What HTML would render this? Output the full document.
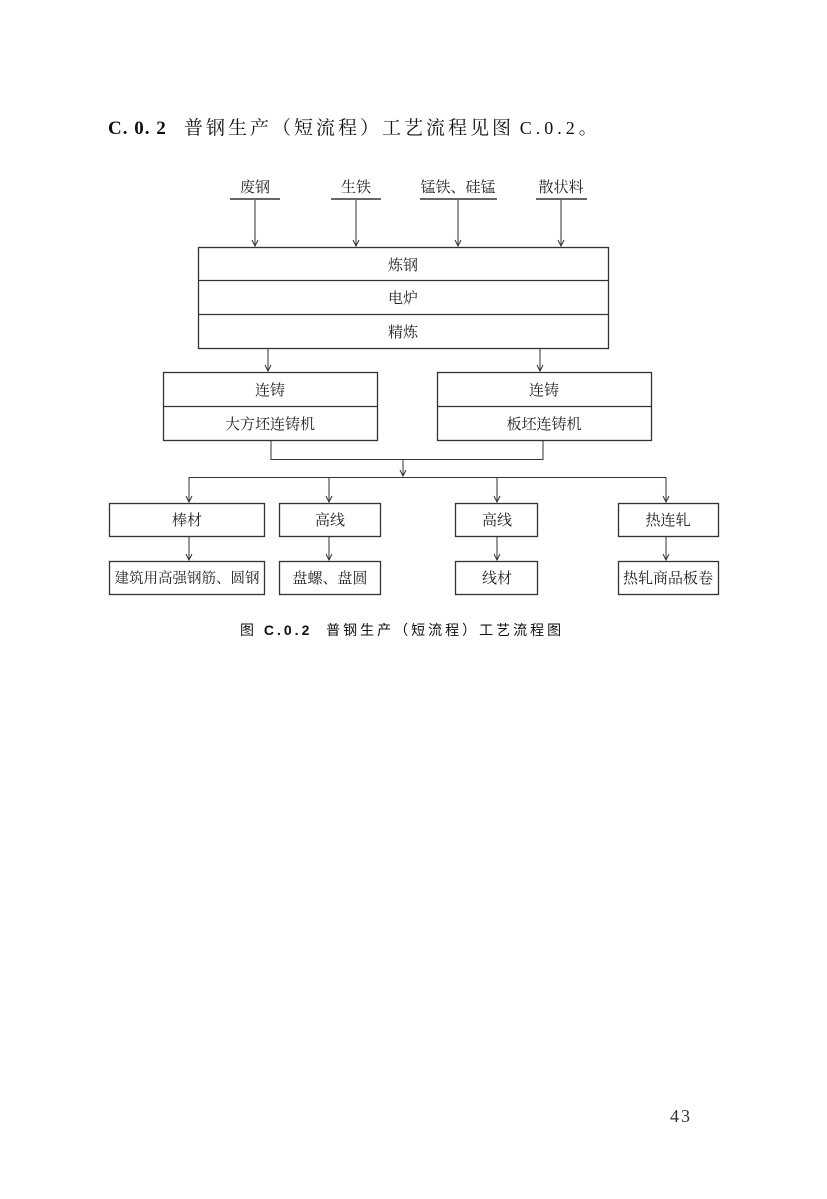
<!DOCTYPE html>
<html><head><meta charset="utf-8"><style>
html,body{margin:0;padding:0;background:#fff;}
body{width:827px;height:1199px;position:relative;overflow:hidden;font-family:"Liberation Serif","Noto Serif CJK SC","Noto Sans CJK SC",serif;color:#111;}
.t{position:absolute;white-space:nowrap;}
svg text{font-family:"Liberation Serif","Noto Serif CJK SC","Noto Sans CJK SC",serif;font-size:15px;fill:#222;text-anchor:middle;}
</style></head><body>
<div class="t" style="left:108px;top:113px;font-size:19px;letter-spacing:1px;"><b>C. 0. 2</b>&nbsp;&nbsp;&nbsp;<span style="letter-spacing:3px">普钢生产（短流程）工艺流程见图</span> <span style="font-size:18px;letter-spacing:4px">C.0.2。</span></div>
<svg width="827" height="1199" style="position:absolute;left:0;top:0" xmlns="http://www.w3.org/2000/svg">
<defs><marker id="a" markerWidth="8" markerHeight="8" refX="7" refY="4" orient="auto" markerUnits="userSpaceOnUse"><path d="M1,1 L7,4 L1,7" fill="none" stroke="#333" stroke-width="1"/></marker></defs>
<g stroke="#666" stroke-width="2" fill="none">
<line x1="230" y1="199" x2="280" y2="199"/>
<line x1="331" y1="199" x2="381" y2="199"/>
<line x1="420" y1="199" x2="497" y2="199"/>
<line x1="536" y1="199" x2="587" y2="199"/>
</g>
<g stroke="#333" stroke-width="1" fill="none" marker-end="url(#a)">
<line x1="255" y1="200" x2="255" y2="246"/><line x1="356" y1="200" x2="356" y2="246"/>
<line x1="458" y1="200" x2="458" y2="246"/><line x1="561" y1="200" x2="561" y2="246"/>
<line x1="268" y1="349" x2="268" y2="371"/><line x1="540" y1="349" x2="540" y2="371"/>
<line x1="403" y1="459" x2="403" y2="476"/>
<line x1="189" y1="477" x2="189" y2="502"/><line x1="329" y1="477" x2="329" y2="502"/>
<line x1="497" y1="477" x2="497" y2="502"/><line x1="666" y1="477" x2="666" y2="502"/>
<line x1="189" y1="536" x2="189" y2="560"/><line x1="329" y1="536" x2="329" y2="560"/>
<line x1="497" y1="536" x2="497" y2="560"/><line x1="666" y1="536" x2="666" y2="560"/>
</g>
<g stroke="#333" stroke-width="1.3" fill="none">
<rect x="198.5" y="247.5" width="410" height="101"/>
<line x1="198" y1="280.5" x2="609" y2="280.5"/><line x1="198" y1="314.5" x2="609" y2="314.5"/>
<rect x="163.5" y="372.5" width="214" height="68"/><line x1="163" y1="406.5" x2="378" y2="406.5"/>
<rect x="437.5" y="372.5" width="214" height="68"/><line x1="437" y1="406.5" x2="652" y2="406.5"/>
<polyline points="271,441 271,459.5 543,459.5 543,441" stroke-width="1"/>
<line x1="189" y1="477.5" x2="666" y2="477.5" stroke-width="1"/>
<rect x="109.5" y="503.5" width="155" height="33"/><rect x="279.5" y="503.5" width="101" height="33"/>
<rect x="455.5" y="503.5" width="82" height="33"/><rect x="618.5" y="503.5" width="100" height="33"/>
<rect x="109.5" y="561.5" width="155" height="33"/><rect x="279.5" y="561.5" width="101" height="33"/>
<rect x="455.5" y="561.5" width="82" height="33"/><rect x="618.5" y="561.5" width="100" height="33"/>
</g>
<text x="255" y="192">废钢</text><text x="356" y="192">生铁</text><text x="458" y="192">锰铁、硅锰</text><text x="561" y="192">散状料</text>
<text x="403" y="270">炼钢</text><text x="403" y="303">电炉</text><text x="403" y="337">精炼</text>
<text x="270" y="395">连铸</text><text x="270" y="429">大方坯连铸机</text>
<text x="544" y="395">连铸</text><text x="544" y="429">板坯连铸机</text>
<text x="187" y="525">棒材</text><text x="330" y="525">高线</text><text x="497" y="525">高线</text><text x="668" y="525">热连轧</text>
<text x="187" y="583" style="font-size:14.5px">建筑用高强钢筋、圆钢</text><text x="330" y="583">盘螺、盘圆</text><text x="497" y="583">线材</text><text x="668" y="583">热轧商品板卷</text>
</svg>
<div class="t" style="left:240px;top:620px;font-size:14px;letter-spacing:3px;font-family:'Liberation Sans','Noto Sans CJK SC',sans-serif;">图 <b>C.0.2</b>&nbsp;&nbsp;普钢生产（短流程）工艺流程图</div>
<div class="t" style="left:670px;top:1106px;font-size:18px;letter-spacing:2px;color:#333;">43</div>
</body></html>
